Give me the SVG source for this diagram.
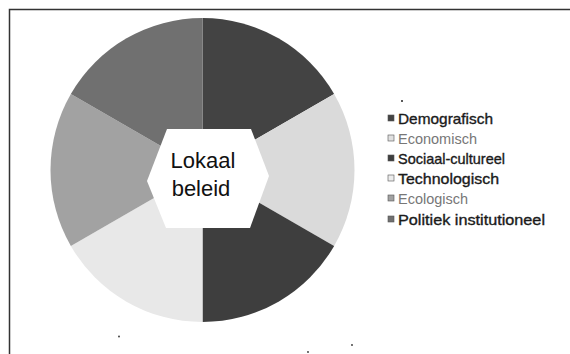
<svg xmlns="http://www.w3.org/2000/svg" width="570" height="354" viewBox="0 0 570 354">
  <style>
    .lbl { font-family: "Liberation Sans", Arial, sans-serif; font-size: 15px; }
    .dark { fill: #1a1a1a; stroke: #1a1a1a; stroke-width: 0.35; }
    .light { fill: #777777; }
    .title { font-family: "Liberation Sans", Arial, sans-serif; font-size: 22px; fill: #111111; text-anchor: middle; }
    .mk { stroke: #555555; stroke-width: 0.6; }
    .frame { stroke: #333333; stroke-width: 1.5; fill: none; }
  </style>
  <rect width="570" height="354" fill="#ffffff"/>
  <g id="frame">
    <path class="frame" d="M9.5,354 L9.5,9.5 L570,9.5"/>
  </g>
  <g id="pie">
    <g id="seg-demografisch"><path d="M202.5,170 L202.5,18 A152,152 0 0 1 334.14,94 Z" fill="#434343"/></g>
    <g id="seg-economisch"><path d="M202.5,170 L334.14,94 A152,152 0 0 1 334.14,246 Z" fill="#dadada"/></g>
    <g id="seg-sociaal-cultureel"><path d="M202.5,170 L334.14,246 A152,152 0 0 1 202.5,322 Z" fill="#3e3e3e"/></g>
    <g id="seg-technologisch"><path d="M202.5,170 L202.5,322 A152,152 0 0 1 70.86,246 Z" fill="#e8e8e8"/></g>
    <g id="seg-ecologisch"><path d="M202.5,170 L70.86,246 A152,152 0 0 1 70.86,94 Z" fill="#a2a2a2"/></g>
    <g id="seg-politiek"><path d="M202.5,170 L70.86,94 A152,152 0 0 1 202.5,18 Z" fill="#707070"/></g>
  </g>
  <g id="center">
    <polygon points="167,129 251,129 269,176 250,228 166,228 147,181" fill="#ffffff"/>
    <text class="title" x="203" y="168">Lokaal</text>
    <text class="title" x="201" y="196">beleid</text>
  </g>
  <g id="legend">
    <circle cx="402" cy="101" r="1" fill="#222"/>
    <g id="leg-demografisch">
      <rect class="mk" x="388" y="115" width="6" height="6" fill="#434343"/>
      <text class="lbl dark" x="398" y="124" textLength="95" lengthAdjust="spacingAndGlyphs">Demografisch</text>
    </g>
    <g id="leg-economisch">
      <rect class="mk" x="388" y="135" width="6" height="6" fill="#e0e0e0" stroke="#bbbbbb"/>
      <text class="lbl light" x="398" y="144" textLength="79" lengthAdjust="spacingAndGlyphs">Economisch</text>
    </g>
    <g id="leg-sociaal">
      <rect class="mk" x="388" y="155" width="6" height="6" fill="#3e3e3e"/>
      <text class="lbl dark" x="398" y="164" textLength="107" lengthAdjust="spacingAndGlyphs">Sociaal-cultureel</text>
    </g>
    <g id="leg-technologisch">
      <rect class="mk" x="388" y="175" width="6" height="6" fill="#ececec" stroke="#cccccc"/>
      <text class="lbl dark" x="398" y="184" textLength="101" lengthAdjust="spacingAndGlyphs">Technologisch</text>
    </g>
    <g id="leg-ecologisch">
      <rect class="mk" x="388" y="195" width="6" height="6" fill="#a2a2a2"/>
      <text class="lbl light" x="398" y="204" textLength="70" lengthAdjust="spacingAndGlyphs">Ecologisch</text>
    </g>
    <g id="leg-politiek">
      <rect class="mk" x="388" y="216" width="6" height="6" fill="#707070"/>
      <text class="lbl dark" x="398" y="225" textLength="147" lengthAdjust="spacingAndGlyphs">Politiek institutioneel</text>
    </g>
  </g>
  <g id="specks" fill="#333">
    <circle cx="119" cy="336.5" r="0.9"/>
    <circle cx="352" cy="345" r="0.9"/>
    <circle cx="308" cy="352" r="0.9"/>
  </g>
</svg>
